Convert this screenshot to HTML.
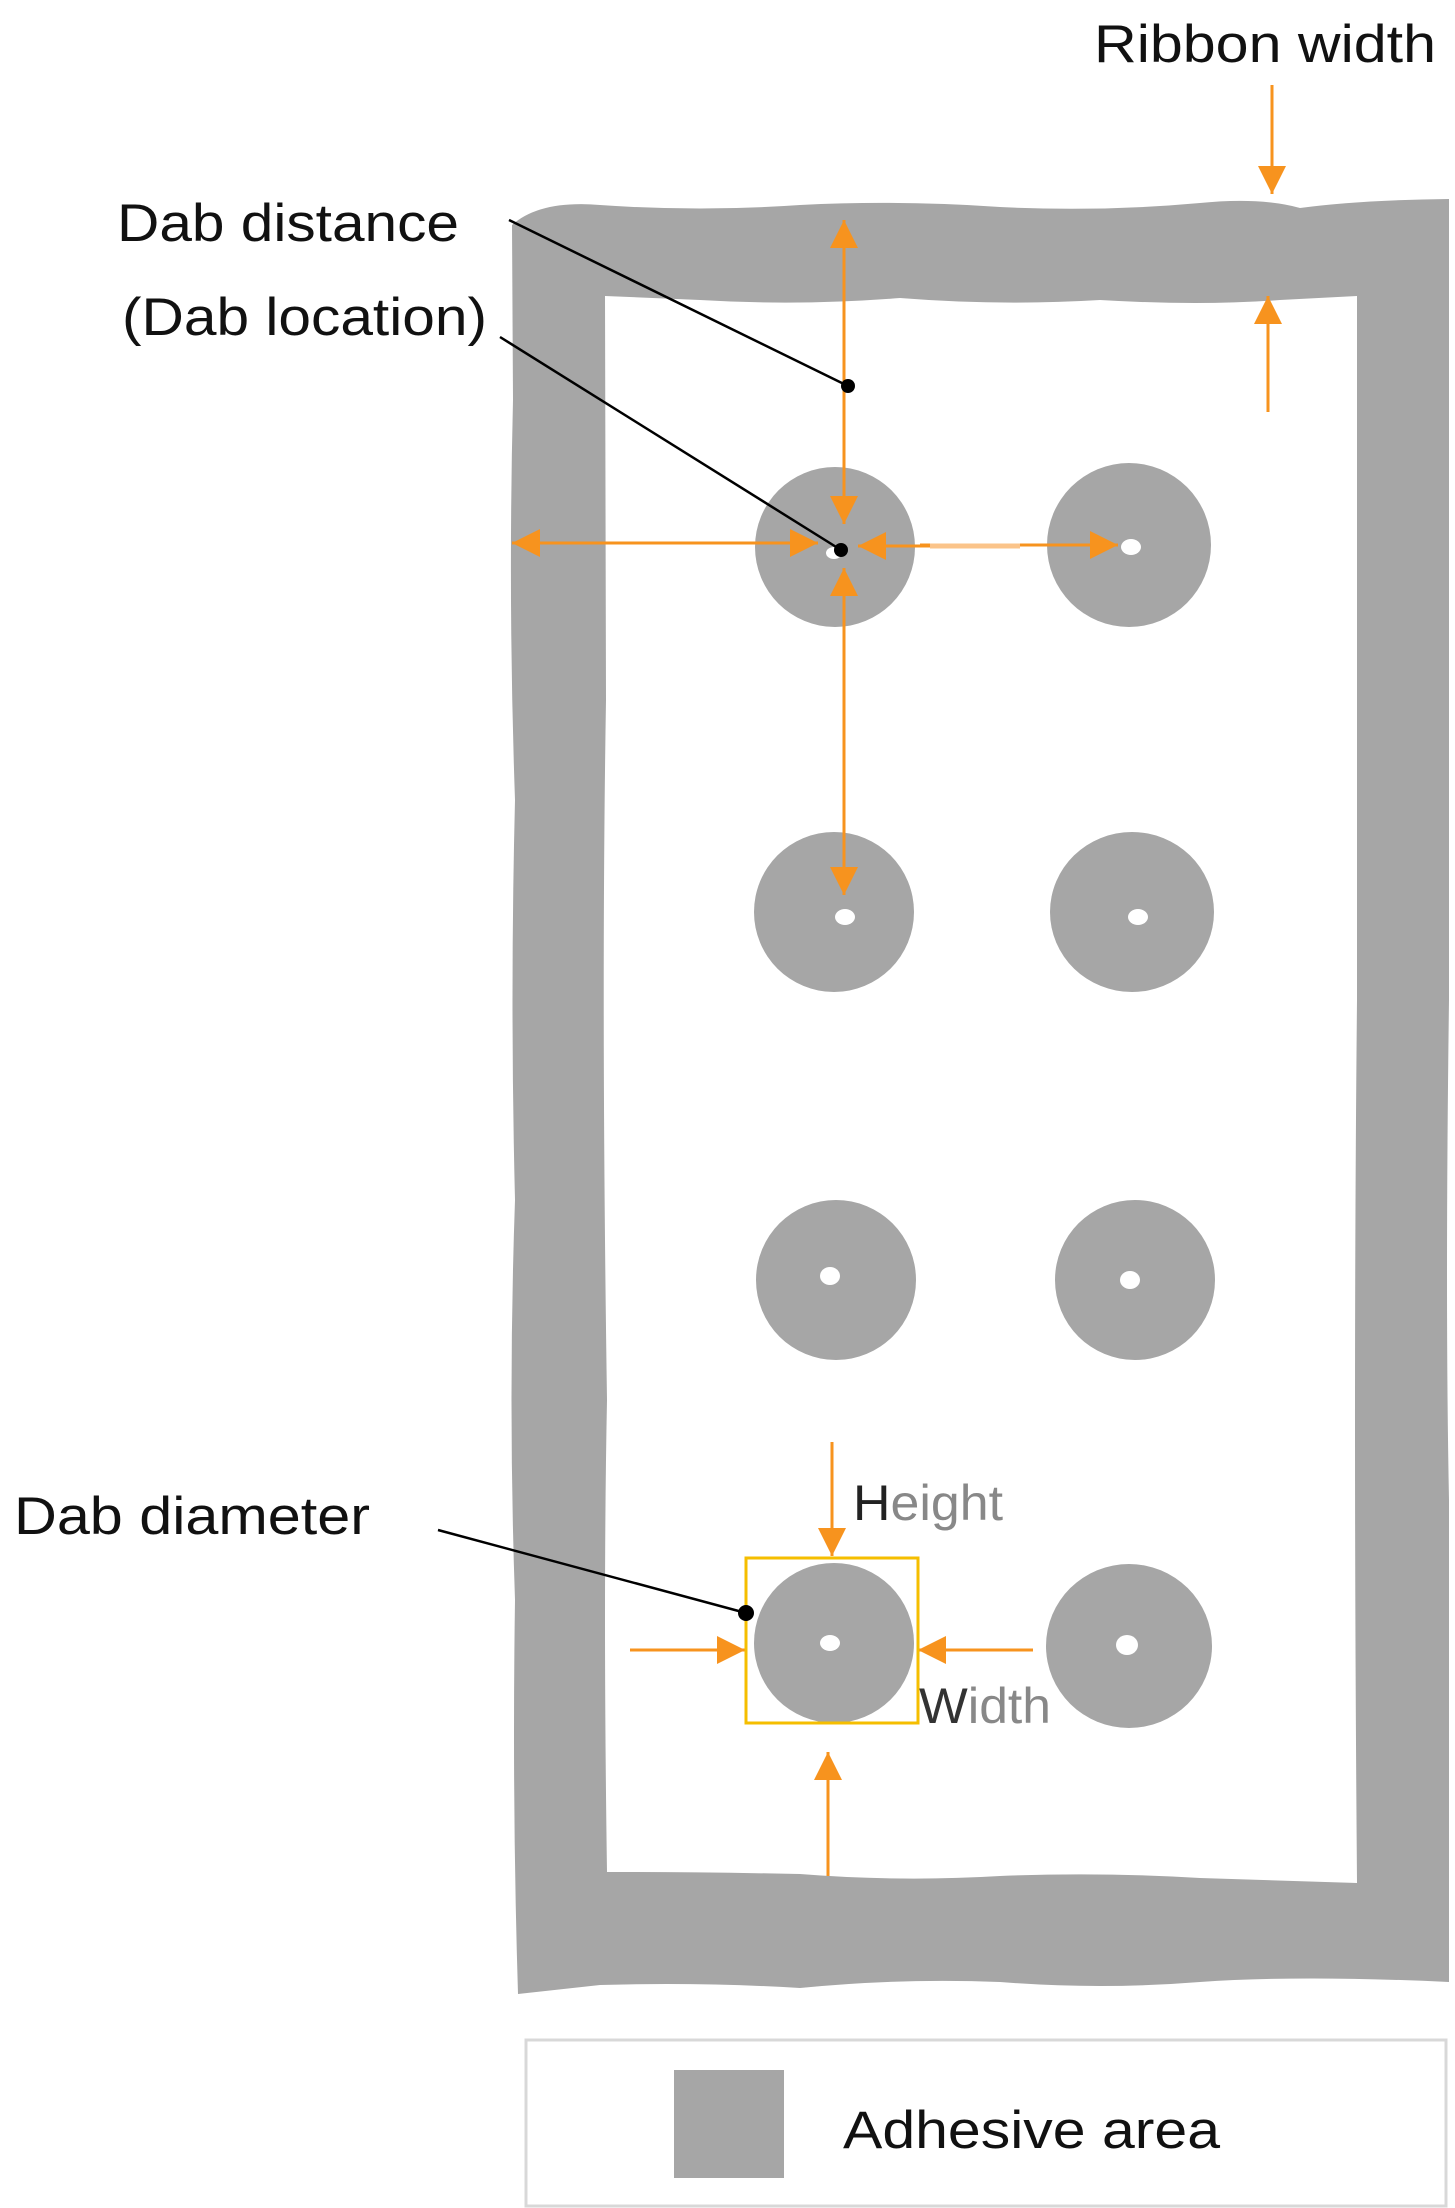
<!DOCTYPE html>
<html><head><meta charset="utf-8"><style>
html,body{margin:0;padding:0;background:#fff;}
svg{display:block;}
text{font-family:"Liberation Sans",Arial,sans-serif;}
</style></head><body>
<svg width="1455" height="2208" viewBox="0 0 1455 2208" xmlns="http://www.w3.org/2000/svg">
<defs>
<marker id="a" viewBox="0 0 10 10" refX="10" refY="5" markerWidth="9" markerHeight="9" markerUnits="userSpaceOnUse" orient="auto">
<path d="M0,0 L10,5 L0,10 z" fill="#f7931e"/></marker>
<marker id="A" viewBox="0 0 10 10" refX="10" refY="5" markerWidth="28" markerHeight="28" markerUnits="userSpaceOnUse" orient="auto">
<path d="M0,0 L10,5 L0,10 z" fill="#f7931e"/></marker>
</defs>
<!-- frame -->
<path fill-rule="evenodd" fill="#a6a6a6" d="
M512,225 Q540,200 600,205 Q700,212 800,205 Q900,200 1000,207 Q1100,212 1200,203 Q1260,197 1300,208 Q1360,200 1449,199
L1449,1000 Q1445,1300 1449,1500 L1449,1910 L1449,1982 Q1300,1975 1200,1982 Q1100,1990 1000,1982 Q900,1978 800,1988 Q700,1982 600,1985 L518,1994
Q512,1800 515,1600 Q508,1400 515,1200 Q510,1000 515,800 Q508,600 513,400 Z
M605,296 L700,300 Q800,306 900,298 Q1000,306 1100,300 Q1200,306 1280,300 L1357,296 L1357,1000 Q1353,1400 1357,1883 L1200,1878 Q1100,1872 1000,1876 Q900,1882 800,1874 Q700,1872 607,1872 Q603,1600 607,1400 Q601,1000 606,700 Z"/>
<!-- dabs -->
<g fill="#a6a6a6">
<ellipse cx="835" cy="547" rx="80" ry="80"/>
<ellipse cx="1129" cy="545" rx="82" ry="82"/>
<ellipse cx="834" cy="912" rx="80" ry="80"/>
<ellipse cx="1132" cy="912" rx="82" ry="80"/>
<ellipse cx="836" cy="1280" rx="80" ry="80"/>
<ellipse cx="1135" cy="1280" rx="80" ry="80"/>
<ellipse cx="834" cy="1643" rx="80" ry="80"/>
<ellipse cx="1129" cy="1646" rx="83" ry="82"/>
</g>
<g fill="#fff">
<ellipse cx="834" cy="553" rx="8" ry="6"/>
<ellipse cx="1131" cy="547" rx="10" ry="8"/>
<ellipse cx="845" cy="917" rx="10" ry="8"/>
<ellipse cx="1138" cy="917" rx="10" ry="8"/>
<ellipse cx="830" cy="1276" rx="10" ry="9"/>
<ellipse cx="1130" cy="1280" rx="10" ry="9"/>
<ellipse cx="830" cy="1643" rx="10" ry="8"/>
<ellipse cx="1127" cy="1645" rx="11" ry="10"/>
</g>
<!-- orange arrows -->
<g stroke="#f7931e" stroke-width="3" fill="none">
<line x1="1272" y1="85" x2="1272" y2="194" marker-end="url(#A)"/>
<line x1="1268" y1="412" x2="1268" y2="296" marker-end="url(#A)"/>
<line x1="844" y1="400" x2="844" y2="220" marker-end="url(#A)"/>
<line x1="844" y1="380" x2="844" y2="524" marker-end="url(#A)"/>
<line x1="844" y1="720" x2="844" y2="568" marker-end="url(#A)"/>
<line x1="844" y1="700" x2="844" y2="895" marker-end="url(#A)"/>
<line x1="680" y1="543" x2="512" y2="543" marker-end="url(#A)"/>
<line x1="680" y1="543" x2="818" y2="543" marker-end="url(#A)"/>
<line x1="940" y1="546" x2="858" y2="546" marker-end="url(#A)"/>
<line x1="920" y1="545" x2="1118" y2="545" marker-end="url(#A)"/>
<line x1="832" y1="1442" x2="832" y2="1556" marker-end="url(#A)"/>
<line x1="828" y1="1876" x2="828" y2="1752" marker-end="url(#A)"/>
<line x1="630" y1="1650" x2="745" y2="1650" marker-end="url(#A)"/>
<line x1="1033" y1="1650" x2="918" y2="1650" marker-end="url(#A)"/>
</g>
<line x1="930" y1="546" x2="1020" y2="546" stroke="#fbc48a" stroke-width="5"/>
<!-- yellow box -->
<rect x="746" y="1558" width="172" height="165" fill="none" stroke="#f5be00" stroke-width="3"/>
<!-- callouts -->
<g stroke="#000" stroke-width="2.5">
<line x1="509" y1="220" x2="848" y2="386"/>
<line x1="500" y1="337" x2="841" y2="550"/>
<line x1="438" y1="1530" x2="746" y2="1613"/>
</g>
<g fill="#000">
<circle cx="848" cy="386" r="7"/>
<circle cx="841" cy="550" r="7"/>
<circle cx="746" cy="1613" r="8"/>
</g>
<!-- labels -->
<g font-size="53" fill="#111">
<text x="1094" y="62" textLength="342" lengthAdjust="spacingAndGlyphs">Ribbon width</text>
<text x="117" y="241" textLength="342" lengthAdjust="spacingAndGlyphs">Dab distance</text>
<text x="122" y="335" textLength="365" lengthAdjust="spacingAndGlyphs">(Dab location)</text>
<text x="14" y="1534" textLength="356" lengthAdjust="spacingAndGlyphs">Dab diameter</text>
<text x="853" y="1520" font-size="50" fill="#888" textLength="150" lengthAdjust="spacingAndGlyphs"><tspan fill="#222">H</tspan>eight</text>
<text x="919" y="1723" font-size="50" fill="#888" textLength="132" lengthAdjust="spacingAndGlyphs"><tspan fill="#333">W</tspan>idth</text>
</g>
<!-- legend -->
<rect x="526" y="2040" width="920" height="166" fill="#fff" stroke="#d8d8d8" stroke-width="3"/>
<rect x="674" y="2070" width="110" height="108" fill="#a6a6a6"/>
<text x="843" y="2148" font-size="53" fill="#111" textLength="377" lengthAdjust="spacingAndGlyphs">Adhesive area</text>
</svg>
</body></html>
